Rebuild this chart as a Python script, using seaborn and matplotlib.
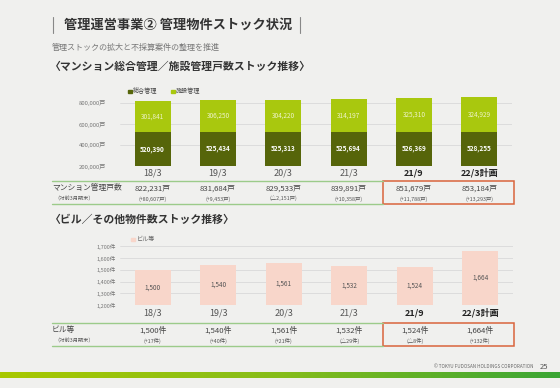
import matplotlib
matplotlib.use('Agg')
import numpy as np
import seaborn as sns
from matplotlib import pyplot as plt
from matplotlib.lines import Line2D
from matplotlib.patches import Rectangle
from matplotlib.colors import LinearSegmentedColormap
from matplotlib.transforms import blended_transform_factory

periods = ['18/3', '19/3', '20/3', '21/3', '21/9', '22/3計画']
sogo = [520390, 525434, 525313, 525694, 526369, 528255]
shisetsu = [301841, 306250, 304220, 314197, 325310, 324929]
mansion_total = [822231, 831684, 829533, 839891, 851679, 853184]
mansion_diff = ['+80,607', '+9,453', '△2,151', '+10,358', '+11,788', '+13,293']
buildings = [1500, 1540, 1561, 1532, 1524, 1664]
building_diff = ['+17', '+40', '+21', '△29', '△8', '+132']
mansion_ticks = [200000, 400000, 600000, 800000]
building_ticks = [1200, 1300, 1400, 1500, 1600, 1700]

BG = '#f0f0ee'
DARK = '#56650a'
LIGHT = '#a9c80e'
PINK = '#f8d6ca'
GREEN_LINE = '#9ccb8a'
RED = '#d9643c'

sns.set_style('white')
plt.rcParams['font.family'] = ['Noto Sans CJK JP', 'DejaVu Sans']

W, H = 560, 388
fig = plt.figure(figsize=(W / 100, H / 100), dpi=100, facecolor=BG)


def fy(y):
    return 1 - y / H


def fx(x):
    return x / W


def add_ax(x0, x1, y_top, y_bot):
    ax = fig.add_axes([fx(x0), fy(y_bot), fx(x1 - x0), (y_bot - y_top) / H])
    ax.set_facecolor(BG)
    for s in ax.spines.values():
        s.set_visible(False)
    return ax


bar_kw = dict(saturation=1, width=0.55, linewidth=0, edgecolor='none')

# ---------------- header ----------------
fig.add_artist(Line2D([fx(53), fx(53)], [fy(17), fy(33)], color='#888', lw=0.8))
fig.add_artist(Line2D([fx(300), fx(300)], [fy(17), fy(33)], color='#888', lw=0.8))
fig.text(fx(64), fy(25), '管理運営事業② 管理物件ストック状況', fontsize=9.5, fontweight='bold',
         color='#333', va='center')
fig.text(fx(52), fy(47), '管理ストックの拡大と不採算案件の整理を推進', fontsize=5.8,
         color='#777', va='center')
fig.text(fx(50), fy(66), '〈マンション総合管理／施設管理戸数ストック推移〉', fontsize=7.8,
         fontweight='bold', color='#333', va='center')

# ---------------- mansion chart ----------------
ax1 = add_ax(120, 512, 96.7, 166)
totals = [a + b for a, b in zip(sogo, shisetsu)]
sns.barplot(x=periods, y=totals, color=LIGHT, ax=ax1, **bar_kw)
sns.barplot(x=periods, y=sogo, color=DARK, ax=ax1, **bar_kw)
ax1.set_ylim(200000, 860000)
ax1.set_xlim(-0.5, 5.5)
ax1.set_yticks(mansion_ticks)
ax1.set_yticklabels([f'{v:,}戸' for v in mansion_ticks], fontsize=4.3, color='#777')
ax1.tick_params(axis='y', length=0, pad=10)
ax1.tick_params(axis='x', length=0, pad=1.5, labelsize=6.5, labelcolor='#555')
ax1.yaxis.grid(True, color='#d9d9d9', lw=0.6)
ax1.set_axisbelow(True)
ax1.set_xlabel('')
ax1.set_ylabel('')
for i, (a, b) in enumerate(zip(sogo, shisetsu)):
    ax1.text(i, (200000 + a) / 2, f'{a:,}', ha='center', va='center', fontsize=4.6,
             color='white', fontweight='bold')
    ax1.text(i, a + b / 2, f'{b:,}', ha='center', va='center', fontsize=4.6, color='#eef3c8')

# legend
fig.add_artist(Rectangle((fx(128), fy(93)), fx(3.5), 3.5 / H, color=DARK))
fig.text(fx(133), fy(91), '総合管理', fontsize=4.4, color='#444', va='center')
fig.add_artist(Rectangle((fx(171), fy(93)), fx(3.5), 3.5 / H, color=LIGHT))
fig.text(fx(176), fy(91), '施設管理', fontsize=4.4, color='#444', va='center')

# ---------------- building chart ----------------
ax2 = add_ax(120, 513, 239, 305)
sns.barplot(x=periods, y=buildings, color=PINK, ax=ax2, **bar_kw)
ax2.set_ylim(1200, 1762)
ax2.set_xlim(-0.5, 5.5)
ax2.set_yticks(building_ticks)
ax2.set_yticklabels([f'{v:,}件' for v in building_ticks], fontsize=4.0, color='#777')
ax2.tick_params(axis='y', length=0, pad=3)
ax2.tick_params(axis='x', length=0, pad=2.5, labelsize=6.5, labelcolor='#555')
ax2.yaxis.grid(True, color='#d9d9d9', lw=0.6)
ax2.set_axisbelow(True)
ax2.set_xlabel('')
ax2.set_ylabel('')
for i, v in enumerate(buildings):
    ax2.text(i, (1200 + v) / 2, f'{v:,}', ha='center', va='center', fontsize=4.6, color='#555')

fig.add_artist(Rectangle((fx(131), fy(241)), fx(3.5), 3.5 / H, color=PINK))
fig.text(fx(137), fy(239), 'ビル等', fontsize=4.4, color='#666', va='center')

for ax in (ax1, ax2):
    for lbl in ax.get_xticklabels()[4:]:
        lbl.set_fontweight('bold')
        lbl.set_color('#222')

fig.text(fx(50), fy(220), '〈ビル／その他物件数ストック推移〉', fontsize=7.8,
         fontweight='bold', color='#333', va='center')


# ---------------- tables ----------------
def table(ax, y_top, y_bot, label, values, diffs, unit):
    tr = blended_transform_factory(ax.transData, fig.transFigure)
    fig.add_artist(Line2D([fx(52), fx(383)], [fy(y_top), fy(y_top)], color=GREEN_LINE, lw=1.0))
    fig.add_artist(Line2D([fx(52), fx(383)], [fy(y_bot), fy(y_bot)], color=GREEN_LINE, lw=1.0))
    fig.add_artist(Rectangle((fx(383), fy(y_bot)), fx(131), (y_bot - y_top) / H,
                             fill=False, edgecolor=RED, lw=1.1))
    r1 = y_top + (y_bot - y_top) * 0.32
    r2 = y_top + (y_bot - y_top) * 0.78
    fig.text(fx(52), fy(r1), label, fontsize=5.6, color='#444', va='center')
    fig.text(fx(54), fy(r2), '（対前3月期末）', fontsize=3.8, color='#555', va='center')
    for i, (v, d) in enumerate(zip(values, diffs)):
        ax.text(i, fy(r1), f'{v:,}{unit}', transform=tr, ha='center', va='center',
                fontsize=5.6, color='#444')
        ax.text(i, fy(r2), f'({d}{unit})', transform=tr, ha='center', va='center',
                fontsize=3.9, color='#555')


table(ax1, 181, 204, 'マンション管理戸数', mansion_total, mansion_diff, '戸')
table(ax2, 323, 345.5, 'ビル等', buildings, building_diff, '件')

# ---------------- footer ----------------
fig.text(fx(533), fy(367), '© TOKYU FUDOSAN HOLDINGS CORPORATION', fontsize=3.3,
         color='#666', ha='right', va='center')
fig.text(fx(540), fy(367), '25', fontsize=5.5, color='#555', va='center')
gax = fig.add_axes([0, fy(378), 1, 6 / H])
gax.axis('off')
cmap = LinearSegmentedColormap.from_list('g', ['#a8c800', '#86bd1a', '#3aa535'])
gax.imshow(np.linspace(0, 1, 256)[None, :], aspect='auto', cmap=cmap, extent=[0, 1, 0, 1])

fig.savefig('out.png', dpi=100, facecolor=BG)
